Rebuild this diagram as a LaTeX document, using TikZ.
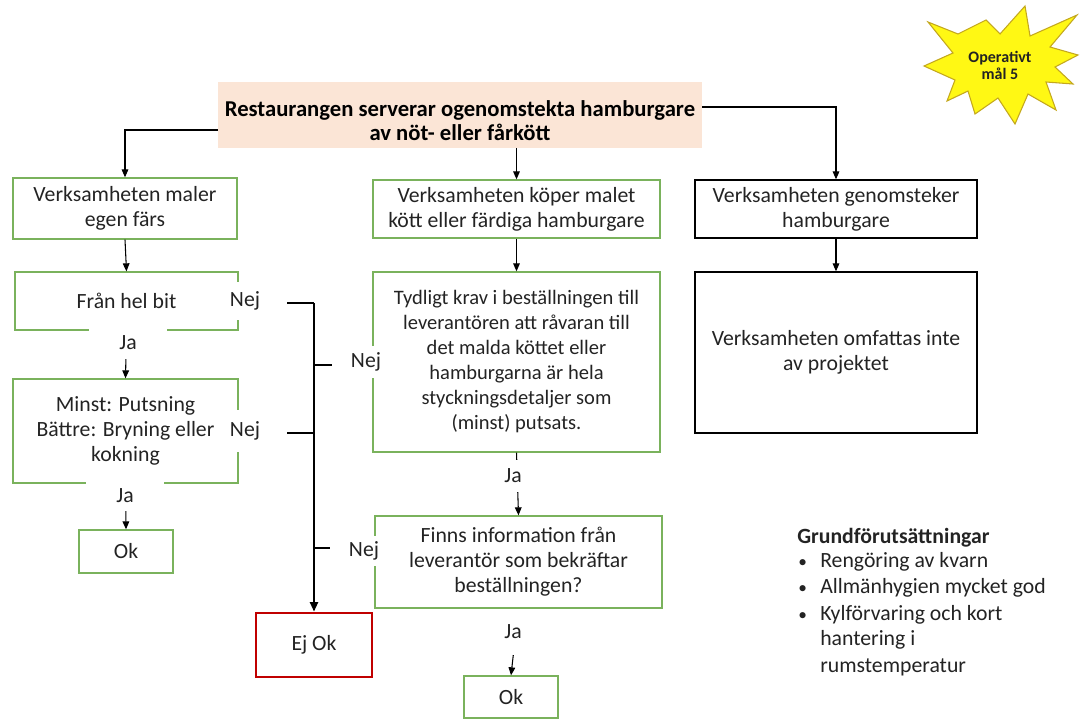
\documentclass[tikz,border=0pt]{standalone}
\usepackage{fontspec}
\setmainfont{Carlito}
\usetikzlibrary{arrows.meta}
\definecolor{boxgreen}{RGB}{122,178,92}
\definecolor{peach}{RGB}{251,229,214}
\definecolor{ejred}{RGB}{192,0,0}
\definecolor{staryellow}{RGB}{255,248,20}
\definecolor{starline}{RGB}{196,168,30}
\definecolor{txt}{RGB}{35,35,35}
\begin{document}
\begin{tikzpicture}[x=0.75pt,y=-0.75pt,
  base/.style={font=\fontsize{16.3pt}{18.75pt}\selectfont, text=txt},
  boxsize/.style 2 args={minimum width=#1*0.75pt, minimum height=#2*0.75pt},
  gbox/.style={base, draw=boxgreen, line width=1pt, align=center, inner sep=0pt},
  kbox/.style={base, draw=black, line width=1pt, align=center, inner sep=0pt},
  peachbox/.style={fill=peach, align=center, inner sep=0pt, text=black,
     font=\fontsize{17pt}{18pt}\selectfont\bfseries},
  ejbox/.style={base, draw=ejred, line width=2.2pt, inner sep=0pt},
  lbl/.style={base, fill=white, inner sep=0pt},
  plainlbl/.style={base, inner sep=0pt},
  listtxt/.style={base, anchor=west, inner sep=0pt, text height=11.5pt, text depth=3.5pt},
  arr/.style={draw=black, line width=0.8pt, -{Triangle[length=6pt,width=5pt]}},
  conn/.style={draw=black, line width=0.8pt},
]
\useasboundingbox (0,0) rectangle (1080,719);

% star
\filldraw[fill=staryellow, draw=starline, line width=0.8pt]
  (928,22) -- (958,34) -- (986,20) -- (1000,34) -- (1025,6) -- (1030,36)
  -- (1077,15) -- (1050,47) -- (1078,55) -- (1055,67) -- (1073,84)
  -- (1046,82) -- (1056,110) -- (1028,94) -- (1015,124) -- (998,98)
  -- (975,114) -- (968,91) -- (947,101) -- (955,80) -- (924,66) -- (953,53) -- cycle;
\node[font=\fontsize{12pt}{12.75pt}\selectfont\bfseries, text=txt, align=center, inner sep=0pt] (star) at (1000,65) {Operativt\\mål 5};

% top
\node[peachbox, boxsize={484}{66}] (top) at (460,115) {\rule{0pt}{20pt}Restaurangen serverar ogenomstekta hamburgare\\av nöt- eller fårkött};

% left column
\node[gbox, boxsize={224}{61}] (A1) at (125,208.5) {Verksamheten maler\\egen färs};
\node[gbox, boxsize={223}{58}] (A2) at (126.5,301) {Från hel bit};
\node[gbox, boxsize={225}{104}] (A3) at (125.5,431) {Minst: Putsning\\Bättre: Bryning eller\\kokning};
\node[gbox, boxsize={94}{43}] (A4) at (126,551.5) {Ok};
\node[ejbox, boxsize={116}{64}] (EjOk) at (314,645) {Ej Ok};

% middle column
\node[gbox, boxsize={287}{58}] (B1) at (516.5,209) {Verksamheten köper malet\\kött eller färdiga hamburgare};
\node[gbox, boxsize={287}{180}, font=\fontsize{15.4pt}{18.75pt}\selectfont] (B2) at (516.5,362) {Tydligt krav i beställningen till\\leverantören att råvaran till\\det malda köttet eller\\hamburgarna är hela\\styckningsdetaljer som\\(minst) putsats.};
\node[gbox, boxsize={287}{92}] (B3) at (518.5,562) {Finns information från\\leverantör som bekräftar\\beställningen?};
\node[gbox, boxsize={94}{42}] (B4) at (511,697) {Ok};

% right column
\node[kbox, boxsize={282}{58}] (C1) at (836,209) {Verksamheten genomsteker\\hamburgare};
\node[kbox, boxsize={282}{161}] (C2) at (836,352.5) {Verksamheten omfattas inte\\av projektet};

% connectors from top
\draw[arr] ([yshift=-11.25pt]top.west) -| (A1.north);
\draw[arr] (top.south -| B1.north) -- (B1.north);
\draw[arr] ([yshift=6pt]top.east) -| (C1.north);

\draw[arr] (A1.south) -- (A2.north);
\draw[arr] (A2.south) -- (A3.north);
\draw[arr] (A3.south) -- (A4.north);
\draw[arr] (B1.south) -- (B2.north);
\draw[arr] (B2.south) -- (B3.north);
\draw[arr, shorten <=35pt] (B3.south) -- (B4.north);
\draw[arr] (C1.south) -- (C2.north);

% Ja labels
\node[lbl, boxsize={78}{32}] (ja1) at (128,343) {Ja};
\node[lbl, boxsize={78}{30}] (ja2) at (125,496) {Ja};
\node[lbl, boxsize={60}{32}] (ja3) at (513,476) {Ja};
\node[plainlbl] (ja4) at (513,632) {Ja};

% Nej labels
\node[lbl, boxsize={36}{38}] (N1) at (245,301) {Nej};
\node[lbl, boxsize={36}{42}] (N2) at (245,431) {Nej};
\node[lbl, boxsize={36}{32}] (N3) at (366,362) {Nej};
\node[lbl, boxsize={36}{30}] (N4) at (364,551) {Nej};

% Nej connectors
\coordinate (J1) at (314,303);
\coordinate (J2) at (314,433);
\coordinate (J3) at (314,365);
\coordinate (J4) at (314,548);
\draw[conn, shorten >=18pt] (J1) -- (N1.east |- J1);
\draw[conn, shorten >=18pt] (J2) -- (N2.east |- J2);
\draw[conn, shorten >=12pt] (J3) -- (N3.west |- J3);
\draw[conn, shorten >=12pt] (J4) -- (N4.west |- J4);
\draw[conn] (J1) -- (J3);
\draw[line width=1.4pt, -{Triangle[length=7pt,width=6pt]}] (J3) -- (EjOk.north);

% Grundförutsättningar
\node[listtxt, font=\fontsize{16.3pt}{18.75pt}\selectfont\bfseries] (g0) at (797,538) {Grundförutsättningar};
\node[listtxt, font=\fontsize{13pt}{15pt}\selectfont] (d1) at (798,562) {\textbullet};
\node[listtxt, font=\fontsize{13pt}{15pt}\selectfont] (d2) at (798,588) {\textbullet};
\node[listtxt, font=\fontsize{13pt}{15pt}\selectfont] (d3) at (798,615) {\textbullet};
\node[listtxt] (g1) at (820,562) {Rengöring av kvarn};
\node[listtxt] (g2) at (820,588) {Allmänhygien mycket god};
\node[listtxt] (g3) at (820,615) {Kylförvaring och kort};
\node[listtxt] (g4) at (820,640) {hantering i};
\node[listtxt] (g5) at (820,667) {rumstemperatur};
\end{tikzpicture}
\end{document}
